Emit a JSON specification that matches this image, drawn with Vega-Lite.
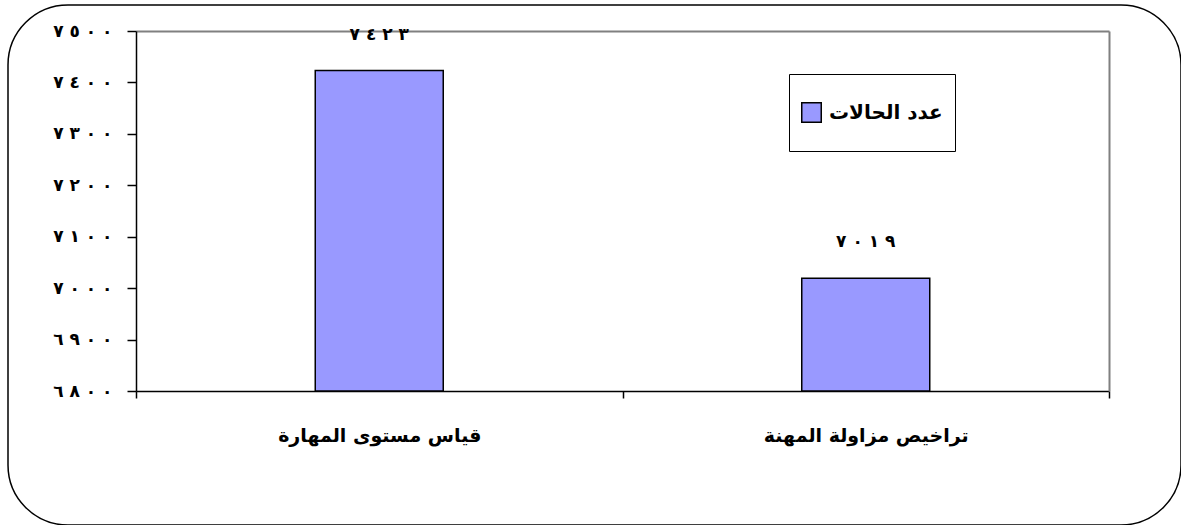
{
  "$schema": "https://vega.github.io/schema/vega-lite/v6.json",
  "width": 1173,
  "height": 520,
  "autosize": {"type": "none"},
  "padding": {"left": 8, "top": 5, "right": 0, "bottom": 0},
  "background": "white",
  "config": {
    "view": {"stroke": "black", "strokeWidth": 1.5, "cornerRadius": 60},
    "font": "DejaVu Sans"
  },
  "data": {
    "values": [
      {"category": "قياس مستوى المهارة", "value": 7423, "label": "٧\u200e ٤\u200e ٢\u200e ٣", "series": "عدد الحالات"},
      {"category": "تراخيص مزاولة المهنة", "value": 7019, "label": "٧\u200e ٠\u200e ١\u200e ٩", "series": "عدد الحالات"}
    ]
  },
  "resolve": {"axis": {"x": "independent", "y": "independent"}},
  "layer": [
    {
      "mark": {"type": "bar", "width": 128, "stroke": "black", "strokeWidth": 1.5},
      "encoding": {
        "x": {
          "field": "category", "type": "nominal",
          "sort": ["قياس مستوى المهارة", "تراخيص مزاولة المهنة"],
          "scale": {"domain": ["قياس مستوى المهارة", "تراخيص مزاولة المهنة"], "range": [128, 1101], "paddingInner": 0, "paddingOuter": 0},
          "axis": {
            "orient": "bottom", "offset": -134, "title": null, "labelAngle": 0, "labelLimit": 500,
            "domainColor": "black", "domainWidth": 1.5, "tickColor": "black", "tickWidth": 1.5, "tickSize": 7,
            "tickBand": "extent", "labelFont": "DejaVu Sans", "labelFontSize": 19, "labelFontWeight": "bold",
            "labelColor": "black", "labelPadding": 28
          }
        },
        "y": {
          "field": "value", "type": "quantitative",
          "scale": {"domain": [6800, 7500], "range": [386, 26], "zero": false, "nice": false},
          "axis": {
            "orient": "left", "offset": -128, "title": null, "grid": false,
            "values": [6800, 6900, 7000, 7100, 7200, 7300, 7400, 7500],
            "labelExpr": "trim(replace(replace(replace(replace(replace(replace(replace(replace(replace(replace(format(datum.value,'d'),/0/g,'٠\u200e '),/1/g,'١\u200e '),/2/g,'٢\u200e '),/3/g,'٣\u200e '),/4/g,'٤\u200e '),/5/g,'٥\u200e '),/6/g,'٦\u200e '),/7/g,'٧\u200e '),/8/g,'٨\u200e '),/9/g,'٩\u200e '))",
            "domainColor": "black", "domainWidth": 1.5, "tickColor": "black", "tickWidth": 1.5, "tickSize": 9,
            "labelFont": "DejaVu Sans", "labelFontSize": 17, "labelFontWeight": "bold", "labelColor": "black", "labelPadding": 15
          }
        },
        "y2": {"datum": 6800},
        "color": {
          "field": "series", "type": "nominal",
          "scale": {"range": ["#9999ff"]},
          "legend": {
            "orient": "none", "legendX": 781, "legendY": 69, "title": null,
            "strokeColor": "black", "fillColor": "white", "padding": 12,
            "symbolType": "square", "symbolSize": 380, "symbolStrokeColor": "black", "symbolStrokeWidth": 1.5,
            "labelFont": "DejaVu Sans", "labelFontSize": 20, "labelFontWeight": "bold", "labelColor": "black",
            "labelOffset": 7, "clipHeight": 53, "labelLimit": 400
          }
        }
      }
    },
    {
      "mark": {"type": "text", "dy": -36, "fontSize": 17, "fontWeight": "bold", "font": "DejaVu Sans", "color": "black", "baseline": "middle"},
      "encoding": {
        "x": {
          "field": "category", "type": "nominal",
          "sort": ["قياس مستوى المهارة", "تراخيص مزاولة المهنة"],
          "scale": {"domain": ["قياس مستوى المهارة", "تراخيص مزاولة المهنة"], "range": [128, 1101], "paddingInner": 0, "paddingOuter": 0},
          "axis": null
        },
        "y": {
          "field": "value", "type": "quantitative",
          "scale": {"domain": [6800, 7500], "range": [386, 26], "zero": false, "nice": false},
          "axis": null
        },
        "text": {"field": "label"}
      }
    },
    {
      "mark": {"type": "point", "opacity": 0},
      "encoding": {
        "x": {
          "field": "category", "type": "nominal",
          "sort": ["قياس مستوى المهارة", "تراخيص مزاولة المهنة"],
          "scale": {"domain": ["قياس مستوى المهارة", "تراخيص مزاولة المهنة"], "range": [128, 1101], "paddingInner": 0, "paddingOuter": 0},
          "axis": {"orient": "top", "offset": -26, "labels": false, "ticks": false, "title": null, "domainColor": "#808080", "domainWidth": 2}
        },
        "y": {
          "field": "value", "type": "quantitative",
          "scale": {"domain": [6800, 7500], "range": [386, 26], "zero": false, "nice": false},
          "axis": {"orient": "right", "offset": -72, "labels": false, "ticks": false, "title": null, "grid": false, "domainColor": "#808080", "domainWidth": 2}
        }
      }
    }
  ]
}
